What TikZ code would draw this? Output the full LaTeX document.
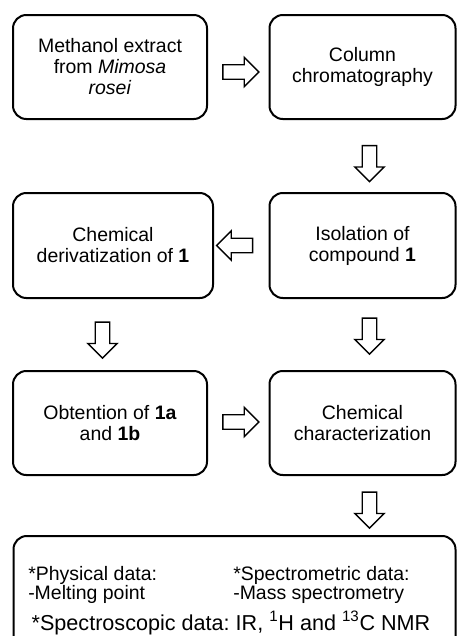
\documentclass[tikz,border=0pt]{standalone}
\usepackage{fontspec}
\setmainfont{Liberation Sans}
\usetikzlibrary{shapes.arrows,calc}

\tikzset{
  stepbox/.style={draw, line width=1.5pt, rounded corners=10pt, align=center,
    inner sep=2pt, font=\fontsize{14.6}{15.75}\selectfont},
  datatext/.style={inner sep=0pt, align=left, font=\fontsize{14.6}{14.3}\selectfont\frenchspacing},
  blockarrow/.style={draw, line width=1pt, single arrow, single arrow head extend=5.6pt,
    single arrow tip angle=90, minimum height=27pt, inner xsep=0pt, inner ysep=4.9pt},
}

\begin{document}
\begin{tikzpicture}[x=0.75pt,y=0.75pt,yscale=-1,xscale=1]
    \clip (0,0) rectangle (457,636);

    % Steps
    \node [stepbox, minimum width=145.5pt, minimum height=78pt] (extract) at (110,67)
        {Methanol extract\\from \textit{Mimosa}\\\textit{rosei}};
    \node [stepbox, minimum width=139.5pt, minimum height=78pt] (column) at (362.5,67)
        {Column\\chromatography};
    \node [stepbox, minimum width=150pt, minimum height=78.75pt] (deriv) at (113,245.5)
        {Chemical\\derivatization of \textbf{1}};
    \node [stepbox, minimum width=139.5pt, minimum height=78.75pt] (isol) at (362.5,245.5)
        {Isolation of\\compound \textbf{1}};
    \node [stepbox, minimum width=145.5pt, minimum height=78pt] (obtent) at (110,423)
        {Obtention of \textbf{1a}\\and \textbf{1b}};
    \node [stepbox, minimum width=139.5pt, minimum height=78pt] (charac) at (362.5,423)
        {Chemical\\characterization};
    \node [stepbox, minimum width=331.5pt, minimum height=87pt] (data) at (234.5,594) {};

    % Data
    \node [datatext, anchor=north west] (phys) at (28,566) {*Physical data:\\-Melting point};
    \node [datatext, anchor=north west] (spectrom) at (233,566) {*Spectrometric data:\\-Mass spectrometry};
    \node [datatext, anchor=base, font=\fontsize{16.2}{17}\selectfont\frenchspacing] (spectrosc) at (231,630)
        {*Spectroscopic data: IR, \textsuperscript{1}H and \textsuperscript{13}C NMR};

    % Arrows
    \node [blockarrow] (a1) at ($(extract.east)!0.5!(column.west) + (-1,5)$) {};
    \node [blockarrow, rotate=-90] (a2) at ($(column.south)!0.5!(isol.north) + (7,4)$) {};
    \node [blockarrow, rotate=180] (a3) at ($(isol.west)!0.5!(deriv.east) + (-3,0)$) {};
    \node [blockarrow, rotate=-90] (a4) at ($(deriv.south)!0.5!(obtent.north) + (-9,2)$) {};
    \node [blockarrow, rotate=-90] (a5) at ($(isol.south)!0.5!(charac.north) + (7,-2)$) {};
    \node [blockarrow] (a6) at ($(obtent.east)!0.5!(charac.west) + (-1,-1)$) {};
    \node [blockarrow, rotate=-90] (a7) at ($(charac.south)!0.5!(charac.south |- data.north) + (7,1)$) {};
\end{tikzpicture}
\end{document}
